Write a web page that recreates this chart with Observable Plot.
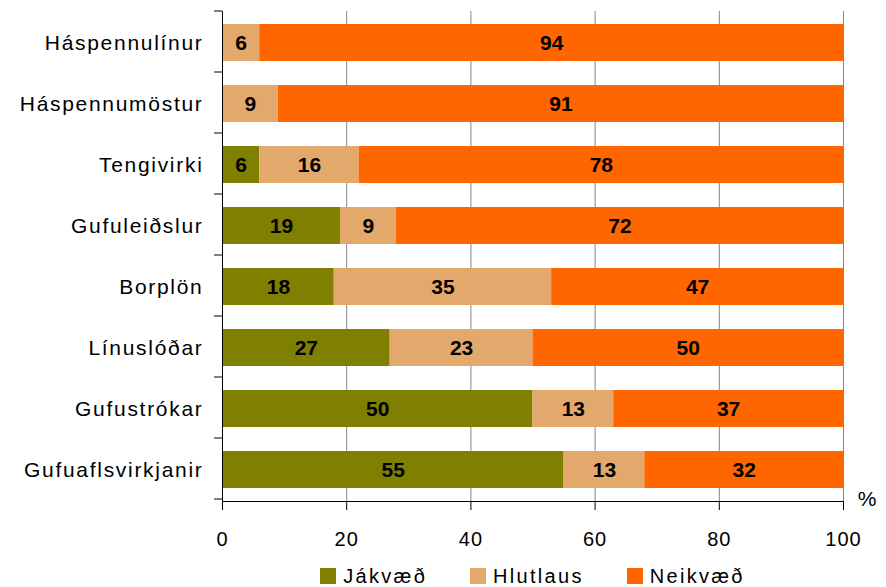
<!DOCTYPE html>
<html>
<head>
<meta charset="utf-8">
<script src="https://cdn.jsdelivr.net/npm/d3@7"></script>
<script src="https://cdn.jsdelivr.net/npm/@observablehq/plot@0.6"></script>
<style>
  html, body { margin: 0; padding: 0; background: #fff; }
  #chart svg { display: block; }
  #chart [aria-label="y-axis tick label"] text { letter-spacing: 1.7px; }
  #chart [aria-label="x-axis tick label"] text { letter-spacing: 1px; }
  #legend {
    box-sizing: border-box;
    width: 886px;
    padding: 5px 43px 0 222px;
    display: flex;
    justify-content: center;
    gap: 43px;
    font-family: "Liberation Sans", Arial, sans-serif;
    font-size: 20px;
    line-height: 22px;
    letter-spacing: 2.3px;
    color: #000;
  }
  #legend .item { display: flex; align-items: center; }
  #legend .sw { width: 16px; height: 16px; margin-right: 7px; }
</style>
</head>
<body>
<div id="chart"></div>
<div id="legend"></div>
<script>
const categories = ["Háspennulínur", "Háspennumöstur", "Tengivirki", "Gufuleiðslur", "Borplön", "Línuslóðar", "Gufustrókar", "Gufuaflsvirkjanir"];
const series = ["Jákvæð", "Hlutlaus", "Neikvæð"];
const colors = ["#808000", "#E3A86C", "#FF6600"];
const jakvaed  = [0, 0, 6, 19, 18, 27, 50, 55];
const hlutlaus = [6, 9, 16, 9, 35, 23, 13, 13];
const neikvaed = [94, 91, 78, 72, 47, 50, 37, 32];
const xTicks = [0, 20, 40, 60, 80, 100];

const seriesValues = [jakvaed, hlutlaus, neikvaed];
const data = [];
series.forEach((s, si) => {
  categories.forEach((c, ci) => data.push({cat: c, series: s, value: seriesValues[si][ci]}));
});

const chart = Plot.plot({
  width: 886,
  height: 560,
  marginLeft: 222,
  marginRight: 43,
  marginTop: 11,
  marginBottom: 59,
  style: {fontFamily: "'Liberation Sans', Arial, sans-serif", fontSize: "20px", background: "#fff", color: "#000"},
  x: {domain: [0, 100]},
  y: {domain: categories, paddingInner: 0.4, paddingOuter: 0.2},
  color: {domain: series, range: colors},
  marks: [
    Plot.gridX(xTicks, {stroke: "#858585", strokeOpacity: 1, strokeWidth: 1}),
    Plot.barX(data, Plot.stackX({x: "value", y: "cat", fill: "series", order: series})),
    Plot.text(data, Plot.stackX({
      x: "value", y: "cat", z: "series", order: series, text: "value",
      filter: d => d.value > 0,
      fontWeight: "bold", fontSize: 21, fill: "#000"
    })),
    Plot.axisX(xTicks, {tickSize: 9, tickPadding: 21, label: null, fontSize: 20, tickFormat: d => d}),
    Plot.axisY({tickSize: 0, tickPadding: 19, label: null, fontSize: 21}),
    Plot.frame({anchor: "left", stroke: "#000"}),
    Plot.frame({anchor: "bottom", stroke: "#000"}),
    Plot.text(["%"], {frameAnchor: "bottom-right", dx: 33, dy: 4, text: d => d, fontSize: 21, fill: "#000"})
  ]
});

// Category boundary ticks on the y axis (Excel-style)
const ys = chart.scale("y");
const xs = chart.scale("x");
const x0 = xs.apply(0);
const r0 = Math.min(...ys.range);
const bounds = d3.range(categories.length + 1).map(i => r0 + i * ys.step);
d3.select(chart).append("g")
  .attr("stroke", "#000")
  .selectAll("line")
  .data(bounds)
  .join("line")
  .attr("x1", x0 - 8).attr("x2", x0)
  .attr("y1", d => d).attr("y2", d => d);

document.getElementById("chart").append(chart);

const legend = d3.select("#legend");
series.forEach((s, i) => {
  const it = legend.append("div").attr("class", "item");
  it.append("div").attr("class", "sw").style("background", colors[i]);
  it.append("span").text(s);
});
</script>
</body>
</html>
